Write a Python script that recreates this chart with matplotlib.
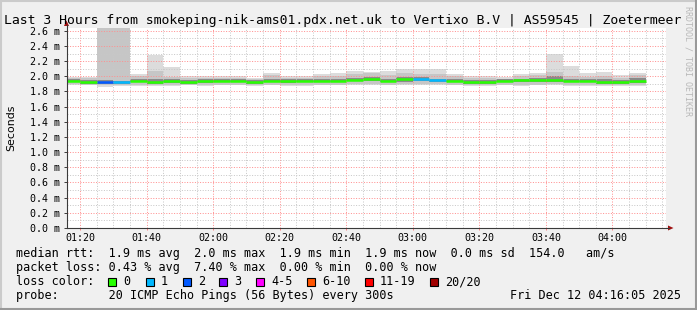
import matplotlib
matplotlib.use("Agg")
import matplotlib.pyplot as plt
from matplotlib.patches import Rectangle, Polygon
from matplotlib.lines import Line2D
from matplotlib.ticker import MultipleLocator, FixedLocator, FixedFormatter, FuncFormatter

# ---------------- data ----------------
# start of each 5-minute step (minutes after 01:00)
step_start = [15, 20, 25, 30, 35, 40, 45, 50, 55, 60, 65, 70, 75, 80, 85, 90, 95,
              100, 105, 110, 115, 120, 125, 130, 135, 140, 145, 150, 155, 160,
              165, 170, 175, 180, 185]
step_len = 5

median_ms = [1.935, 1.92, 1.92, 1.92, 1.94, 1.92, 1.94, 1.92, 1.935, 1.935,
             1.94, 1.92, 1.935, 1.935, 1.935, 1.935, 1.935, 1.955, 1.965, 1.94,
             1.965, 1.97, 1.95, 1.94, 1.92, 1.92, 1.94, 1.945, 1.945, 1.955,
             1.94, 1.94, 1.925, 1.925, 1.935]
loss_pings = [0, 0, 2, 1, 0, 0, 0, 0, 0, 0, 0, 0, 0, 0, 0, 0, 0, 0, 0, 0,
              0, 1, 1, 0, 0, 0, 0, 0, 0, 0, 0, 0, 0, 0, 0]

smoke_max = [1.99, 1.99, 2.70, 2.70, 2.03, 2.28, 2.12, 2.00, 2.01, 2.00,
             2.00, 1.98, 2.04, 2.00, 2.00, 2.035, 2.04, 2.07, 2.06, 2.07,
             2.10, 2.10, 2.09, 2.03, 2.00, 2.00, 1.99, 2.03, 2.04, 2.30,
             2.13, 2.04, 2.06, 2.02, 2.04]
smoke_hi = [1.98, 1.98, 2.70, 2.70, 2.00, 2.07, 1.99, 1.98, 1.98, 1.98,
            1.98, 1.97, 2.02, 1.98, 1.98, 2.00, 2.00, 2.03, 2.04, 2.02,
            2.04, 2.03, 2.03, 2.00, 1.98, 1.98, 1.97, 2.00, 2.02, 2.06,
            2.00, 1.99, 2.00, 1.98, 2.02]
smoke_q3 = [1.96, 1.95, 1.95, 1.94, 1.97, 1.96, 1.96, 1.95, 1.96, 1.96,
            1.96, 1.95, 1.97, 1.96, 1.96, 1.96, 1.97, 1.98, 1.99, 1.97,
            1.99, 1.99, 1.97, 1.96, 1.95, 1.95, 1.96, 1.97, 1.98, 2.00,
            1.97, 1.97, 1.96, 1.95, 1.98]
smoke_q1 = [1.92, 1.90, 1.90, 1.90, 1.92, 1.90, 1.91, 1.90, 1.91, 1.92,
            1.92, 1.90, 1.92, 1.91, 1.92, 1.92, 1.92, 1.94, 1.94, 1.92,
            1.93, 1.94, 1.93, 1.92, 1.90, 1.90, 1.92, 1.92, 1.92, 1.93,
            1.92, 1.92, 1.90, 1.90, 1.91]
smoke_lo = [1.90, 1.89, 1.88, 1.88, 1.89, 1.89, 1.89, 1.89, 1.89, 1.89,
            1.89, 1.88, 1.89, 1.89, 1.89, 1.89, 1.89, 1.90, 1.90, 1.89,
            1.90, 1.90, 1.90, 1.89, 1.88, 1.88, 1.89, 1.89, 1.89, 1.90,
            1.89, 1.89, 1.88, 1.88, 1.89]
smoke_min = [1.89, 1.88, 1.86, 1.87, 1.87, 1.87, 1.87, 1.88, 1.87, 1.88,
             1.88, 1.87, 1.88, 1.87, 1.87, 1.88, 1.88, 1.88, 1.89, 1.88,
             1.88, 1.88, 1.89, 1.88, 1.87, 1.87, 1.88, 1.87, 1.88, 1.88,
             1.87, 1.87, 1.87, 1.87, 1.87]

x_ticks = [20, 40, 60, 80, 100, 120, 140, 160, 180]
x_tick_labels = ["01:20", "01:40", "02:00", "02:20", "02:40", "03:00", "03:20", "03:40", "04:00"]
x_range = (16 + 5 / 60, 196 + 5 / 60)   # 01:16:05 .. 04:16:05
y_max = 2.637

loss_colors = {0: "#26ff00", 1: "#00b8ff", 2: "#0059ff", 3: "#7e00ff",
               5: "#ff00ff", 10: "#ff5500", 19: "#ff0000", 20: "#a10000"}
legend_labels = ["0", "1", "2", "3", "4-5", "6-10", "11-19", "20/20"]
legend_colors = ["#26ff00", "#00b8ff", "#0059ff", "#7e00ff", "#ff00ff", "#ff5500", "#ff0000", "#a10000"]

title = "Last 3 Hours from smokeping-nik-ams01.pdx.net.uk to Vertixo B.V | AS59545 | Zoetermeer"
line_rtt = "median rtt:  1.9 ms avg  2.0 ms max  1.9 ms min  1.9 ms now  0.0 ms sd  154.0   am/s"
line_loss = "packet loss: 0.43 % avg  7.40 % max  0.00 % min  0.00 % now"
line_probe = "probe:       20 ICMP Echo Pings (56 Bytes) every 300s"
stamp = "Fri Dec 12 04:16:05 2025"

# ---------------- figure ----------------
W, H, DPI = 697, 310, 100
MONO = "DejaVu Sans Mono"
plt.rcParams["font.family"] = MONO

fig = plt.figure(figsize=(W / DPI, H / DPI), dpi=DPI, facecolor="#f0f0f0")


def fx(px):
    return px / W


def fy(py):
    return 1 - py / H


ax = fig.add_axes([fx(67), fy(228), fx(599), 200 / H])
ax.set_facecolor("white")
ax.set_xlim(*x_range)
ax.set_ylim(0, y_max)
for s in ax.spines.values():
    s.set_visible(False)


def lc(n):
    for k in sorted(loss_colors):
        if n <= k:
            return loss_colors[k]
    return loss_colors[20]


# smoke bands
ax.bar(step_start, [a - b for a, b in zip(smoke_max, smoke_min)], bottom=smoke_min,
       width=step_len, align="edge", color="#dcdcdc", linewidth=0, zorder=1)
ax.bar(step_start, [a - b for a, b in zip(smoke_hi, smoke_lo)], bottom=smoke_lo,
       width=step_len, align="edge", color="#c6c6c6", linewidth=0, zorder=1.1)
ax.bar(step_start, [a - b for a, b in zip(smoke_q3, smoke_q1)], bottom=smoke_q1,
       width=step_len, align="edge", color="#8a8a8a", linewidth=0, zorder=1.2)

# median line coloured by loss
ax.hlines(median_ms, step_start, [s + step_len for s in step_start],
          colors=[lc(n) for n in loss_pings], linewidth=1.8, zorder=4,
          capstyle="butt")

# grid
ax.set_axisbelow(False)
ax.xaxis.set_major_locator(FixedLocator(x_ticks))
ax.xaxis.set_major_formatter(FixedFormatter(x_tick_labels))
ax.xaxis.set_minor_locator(MultipleLocator(5))
ax.yaxis.set_major_locator(MultipleLocator(0.2))
ax.yaxis.set_minor_locator(MultipleLocator(0.1))
ax.yaxis.set_major_formatter(FuncFormatter(lambda v, p: f"{v:.1f} m"))
ax.grid(which="minor", color="#c8c8c8", linestyle=(0, (1, 1.6)), linewidth=0.72, zorder=2)
ax.grid(which="major", color="#ff9090", linestyle=(0, (1, 1.6)), linewidth=0.72, zorder=2.1)

ax.tick_params(axis="x", which="major", length=1.5, width=0.72, color="#ff8080",
               pad=2.2, labelsize=7.2, labelcolor="black")
ax.tick_params(axis="x", which="minor", length=0)
ax.tick_params(axis="y", which="major", length=2.2, width=0.72, color="#404040",
               pad=2.5, labelsize=7.2, labelcolor="black")
ax.tick_params(axis="y", which="minor", length=0)

# axis lines with arrows (figure pixels)
axis_col = "#3a3a3a"
arrow_col = "#a01010"
fig.add_artist(Line2D([fx(66.5), fx(66.5)], [fy(228), fy(25)], color=axis_col, lw=0.8))
fig.add_artist(Line2D([fx(66.5), fx(669)], [fy(228), fy(228)], color=axis_col, lw=0.8))
fig.add_artist(Polygon([[fx(64), fy(26)], [fx(69), fy(26)], [fx(66.5), fy(20.5)]],
                       closed=True, color=arrow_col, lw=0))
fig.add_artist(Polygon([[fx(668), fy(225.5)], [fx(668), fy(230.5)], [fx(673.5), fy(228)]],
                       closed=True, color=arrow_col, lw=0))

# texts
fig.text(fx(4), fy(24), title, fontsize=9.45, family=MONO, va="baseline", ha="left")
fig.text(fx(11), fy(128), "Seconds", fontsize=7.9, family="DejaVu Sans",
         rotation=90, va="center", ha="center")
fig.text(fx(688), fy(61), "RRDTOOL / TOBI OETIKER", fontsize=6.0, family=MONO,
         rotation=270, va="center", ha="center", color="#b8b8b8")

fs = 8.5
fig.text(fx(16), fy(257.5), line_rtt, fontsize=fs, family=MONO, va="baseline")
fig.text(fx(16), fy(271.3), line_loss, fontsize=fs, family=MONO, va="baseline")
fig.text(fx(16), fy(285.3), "loss color:", fontsize=fs, family=MONO, va="baseline")
fig.text(fx(16), fy(299), line_probe, fontsize=fs, family=MONO, va="baseline")
fig.text(fx(681), fy(299), stamp, fontsize=fs, family=MONO, va="baseline", ha="right")

box_x = [108, 146, 183, 219, 256, 307, 365, 430]
for bx, lab, col in zip(box_x, legend_labels, legend_colors):
    fig.add_artist(Rectangle((fx(bx), fy(286)), 8 / W, 8 / H, transform=fig.transFigure,
                             facecolor=col, edgecolor="black", linewidth=0.8))
    fig.text(fx(bx + 15), fy(285.3), lab, fontsize=fs, family=MONO, va="baseline")

# frame shading
fig.add_artist(Line2D([0, 1], [fy(0.8), fy(0.8)], color="#cbcbcb", lw=1.5))
fig.add_artist(Line2D([fx(0.8), fx(0.8)], [0, 1], color="#cbcbcb", lw=1.5))
fig.add_artist(Line2D([0, 1], [fy(309), fy(309)], color="#999999", lw=1.5))
fig.add_artist(Line2D([fx(696), fx(696)], [0, 1], color="#999999", lw=1.5))

fig.savefig("out.png", dpi=DPI, facecolor=fig.get_facecolor())
